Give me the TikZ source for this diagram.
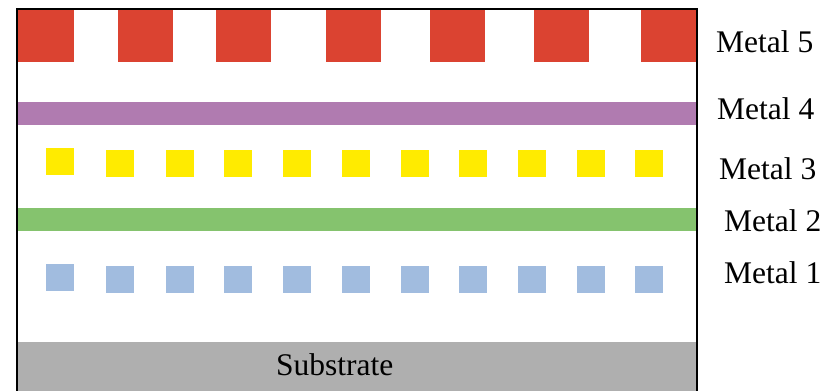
\documentclass[tikz,border=0pt]{standalone}
\usepackage{fontspec}
\setmainfont{Liberation Serif}
\definecolor{mred}{RGB}{219,67,49}
\definecolor{mpurple}{RGB}{176,123,176}
\definecolor{myellow}{RGB}{255,235,0}
\definecolor{mgreen}{RGB}{133,195,110}
\definecolor{mblue}{RGB}{161,188,223}
\definecolor{mgray}{RGB}{175,175,175}
\tikzset{
  lbl/.style={anchor=base west, inner sep=0pt, font=\fontsize{31.5}{36}\selectfont},
  frameline/.style={draw=black, line width=2pt},
}
\begin{document}
\begin{tikzpicture}[x=1pt,y=-1pt]
\useasboundingbox (0,0) rectangle (823,391);
% substrate
\fill[mgray] (17,342) rectangle (697,391);
\node[lbl] (sub) at (276,375.5) {Substrate};
% metal 5
\foreach \a/\b in {18/74,118/173,216/271,326/381,430/485,534/589,641/696}
  \fill[mred] (\a,10) rectangle (\b,62);
% metal 4
\fill[mpurple] (17,102) rectangle (697,125);
% metal 3
\fill[myellow] (46,148) rectangle (74,175);
\foreach \a in {106,166,224,283,342,401,459,518,577,635}
  \fill[myellow] (\a,150) rectangle (\a+28,177);
% metal 2
\fill[mgreen] (17,208) rectangle (697,231);
% metal 1
\fill[mblue] (46,264) rectangle (74,291);
\foreach \a in {106,166,224,283,342,401,459,518,577,635}
  \fill[mblue] (\a,266) rectangle (\a+28,293);
% frame
\draw[frameline] (17,392) -- (17,9) -- (697,9) -- (697,392);
% labels
\node[lbl] (m5) at (716,52) {Metal 5};
\node[lbl] (m4) at (717,119.5) {Metal 4};
\node[lbl] (m3) at (719,179.5) {Metal 3};
\node[lbl] (m2) at (724,231.5) {Metal 2};
\node[lbl] (m1) at (724,283.5) {Metal 1};
\end{tikzpicture}
\end{document}
